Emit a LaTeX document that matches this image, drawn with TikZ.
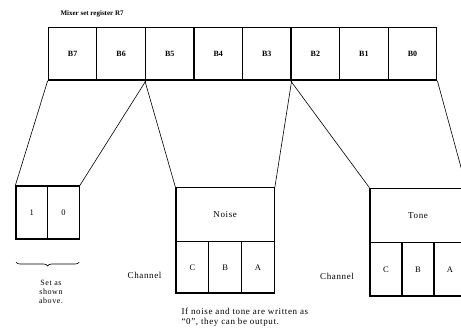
\documentclass[tikz,border=0pt]{standalone}
\usepackage{fontspec}
\setmainfont{Liberation Serif}
\usetikzlibrary{decorations.pathreplacing}

\begin{document}
\begin{tikzpicture}[x=1pt,y=-1pt,
	bitbox/.style={rectangle,draw,line width=1.2pt,inner sep=0pt,font=\fontsize{8.5}{9}\selectfont},
	regbox/.style={bitbox,minimum width=48.55pt,minimum height=52.3pt,font=\fontsize{8}{9}\selectfont\bfseries},
	chbox/.style={bitbox,minimum width=32.77pt,minimum height=51.3pt},
	link/.style={line width=0.6pt},
	txt/.style={font=\fontsize{9}{9.7}\selectfont\addfontfeature{LetterSpace=7}}]
		\useasboundingbox (0,0) rectangle (461,331);
		\clip (0,0) rectangle (461,331);
		\node[anchor=west,font=\fontsize{7}{8}\selectfont\bfseries] (title) at (57,13.5) {Mixer set register R7};
		\node[regbox] (B7) at (72.6,53.85) {B7};
		\node[regbox] (B6) at (121.15,53.85) {B6};
		\node[regbox] (B5) at (169.7,53.85) {B5};
		\node[regbox] (B4) at (218.25,53.85) {B4};
		\node[regbox] (B3) at (266.8,53.85) {B3};
		\node[regbox] (B2) at (315.35,53.85) {B2};
		\node[regbox] (B1) at (363.9,53.85) {B1};
		\node[regbox] (B0) at (412.45,53.85) {B0};
		\node[bitbox,minimum width=31.65pt,minimum height=53pt] (one) at (31.8,212.5) {1};
		\node[bitbox,minimum width=31.65pt,minimum height=53pt] (zero) at (63.45,212.5) {0};
		\node[bitbox,txt,minimum width=98.3pt,minimum height=54pt] (noise) at (225.15,214.7) {Noise};
		\node[chbox] (nC) at (192.4,267.35) {C};
		\node[chbox] (nB) at (225.15,267.35) {B};
		\node[chbox] (nA) at (257.9,267.35) {A};
		\node[bitbox,txt,minimum width=96pt,minimum height=54.4pt] (tone) at (418,215.5) {Tone};
		\node[chbox,minimum width=32pt,minimum height=53.3pt] (tC) at (386,269.35) {C};
		\node[chbox,minimum width=32pt,minimum height=53.3pt] (tB) at (418,269.35) {B};
		\node[chbox,minimum width=32pt,minimum height=53.3pt] (tA) at (450,269.35) {A};
		\draw[link] (B7.south west) -- (one.north west);
		\draw[link] (B6.south east) -- (zero.north east);
		\draw[link] (B5.south west) -- (noise.north west);
		\draw[link] (B3.south east) -- (noise.north east);
		\draw[link] (B2.south west) -- (tone.north west);
		\draw[link] (B0.south east) -- (tone.north east);
		\coordinate (braceL) at (16,262);
		\coordinate (braceR) at (79.3,262);
		\draw[link,decorate,decoration={brace,mirror,amplitude=4pt}] (braceL) -- (braceR);
		\node[align=center,font=\fontsize{8}{8.8}\selectfont\addfontfeature{LetterSpace=7}] (setas) at (51,291.7) {Set as\\shown\\above.};
		\node[txt,anchor=east] (ch1) at (165,275.7) {Channel};
		\node[txt,anchor=east] (ch2) at (357.5,276.7) {Channel};
		\node[txt,anchor=west,align=left] (note) at (178,317) {If noise and tone are written as\\“0”, they can be output.};
\end{tikzpicture}
\end{document}
